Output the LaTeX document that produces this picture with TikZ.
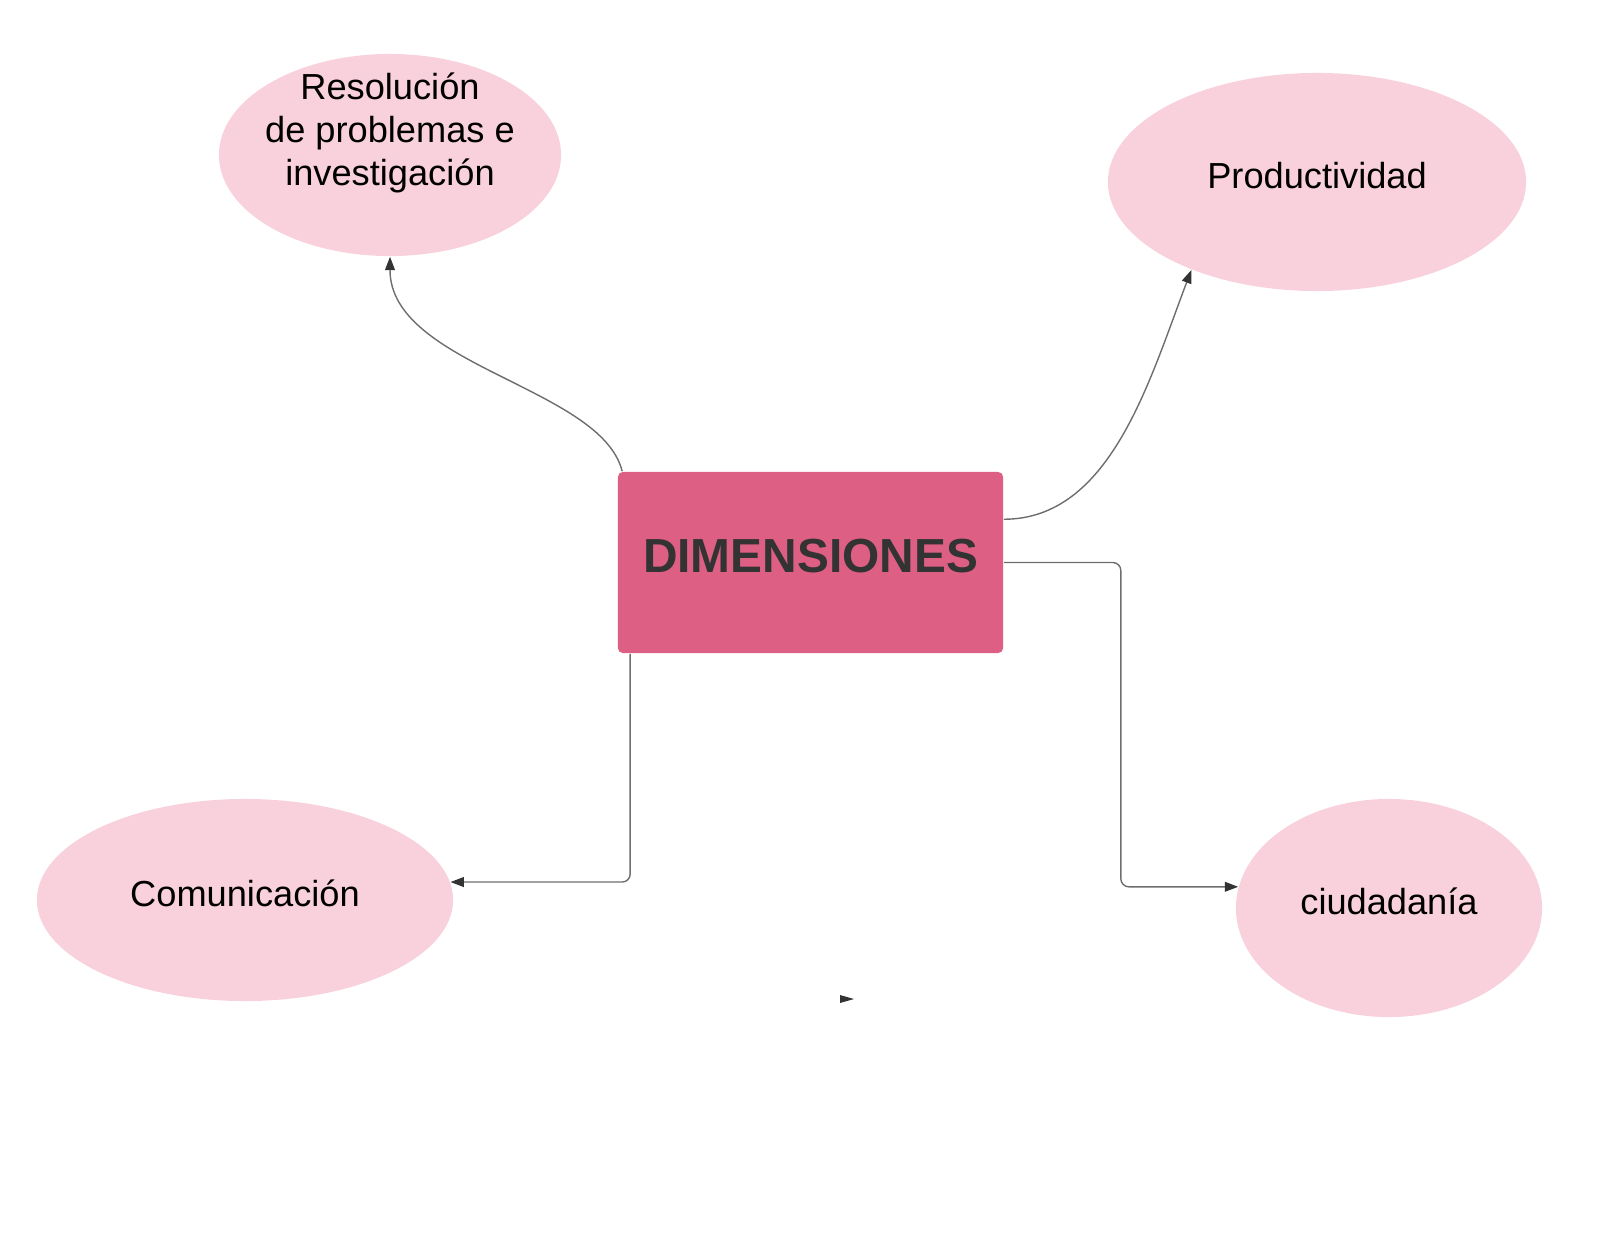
\documentclass[tikz,border=0pt]{standalone}
\usepackage{fontspec}
\setmainfont{Liberation Sans}
\usetikzlibrary{arrows.meta,shapes.geometric,calc}

\definecolor{bubblepink}{HTML}{F9D1DC}
\definecolor{boxpink}{HTML}{DE5F84}
\definecolor{inkgray}{HTML}{333333}
\definecolor{linegray}{HTML}{6E6E6E}

\begin{document}
\begin{tikzpicture}[x=0.01cm, y=-0.01cm,
    bubble/.style={ellipse, fill=bubblepink, inner sep=0pt, align=center,
        text height=7.4pt, text depth=3.5pt,
        font=\fontsize{10.3}{12.3}\selectfont},
    bubbletext/.style={align=center, inner sep=0pt, font=\fontsize{10.3}{12.3}\selectfont},
    link/.style={draw=linegray, line width=0.4pt,
        -{Triangle[length=3.8pt, width=2.8pt, color=inkgray]}}]
    \useasboundingbox (0,0) rectangle (1600,1236);

    % Central box
    \node[fill=boxpink, rounded corners=0.05cm, minimum width=3.85cm, minimum height=1.81cm,
        text=inkgray, font=\fontsize{13.6}{16}\selectfont\bfseries, text depth=3.7pt]
        (dim) at (810.5,562.5) {DIMENSIONES};

    % Bubbles
    \node[bubble, minimum width=3.42cm, minimum height=2.02cm] (res) at (390,155) {};
    \node[bubbletext] (res-text) at (390,133) {Resolución\\de problemas e\\investigación};
    \node[bubble, minimum width=4.18cm, minimum height=2.18cm] (prod) at (1317,182) {Productividad};
    \node[bubble, minimum width=4.16cm, minimum height=2.02cm] (com) at (245,900) {Comunicación};
    \node[bubble, minimum width=3.06cm, minimum height=2.18cm] (ciu) at (1389,908) {ciudadanía};

    % Curved links
    \draw[link] ($(dim.north west)+(5,0)$) .. controls +(-21,-84) and +(0,109) .. (res.south);
    \draw[link] ($(dim.north east)+(0,48)$) .. controls +(107,0) and +(-42,110) .. (prod.215);

    % Elbow links
    \draw[link, rounded corners=0.08cm] (dim.east) -- ++(117,0) |- (ciu.172.5);
    \draw[link, rounded corners=0.08cm] ($(dim.south west)+(13,0)$) |- (com.5.6);

    % Loose tip
    \fill[inkgray] (840,995) -- (854,999) -- (840,1003) -- cycle;
\end{tikzpicture}
\end{document}
